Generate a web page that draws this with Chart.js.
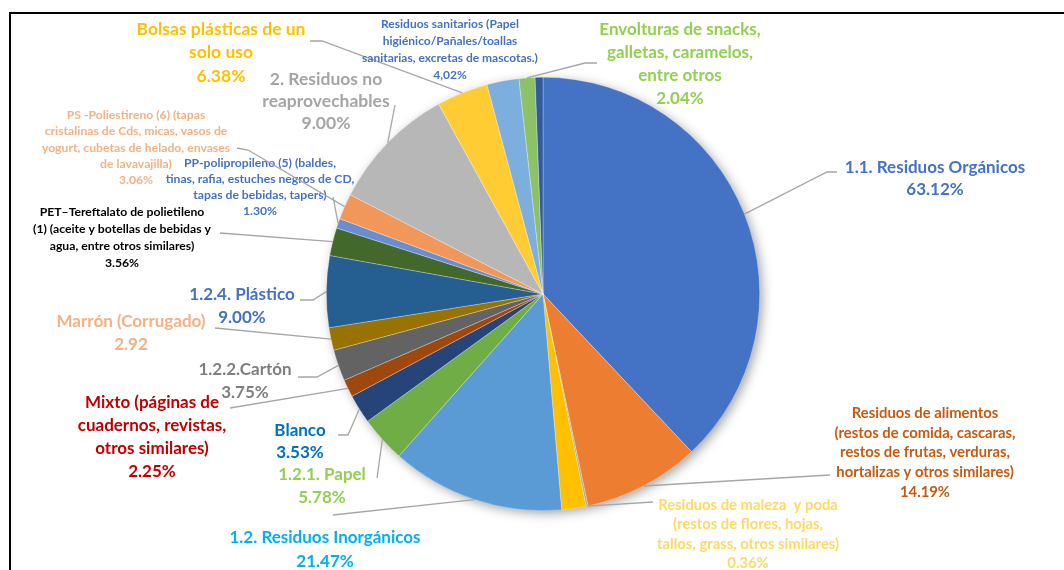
<!DOCTYPE html>
<html>
<head>
<meta charset="utf-8">
<script src="https://cdn.jsdelivr.net/npm/chart.js@4.4.1/dist/chart.umd.min.js"></script>
<style>
  html, body { margin: 0; padding: 0; background: #fff; overflow: hidden; }
  #wrap { position: relative; width: 1064px; height: 570px; }
  #frame { position: absolute; left: 9px; top: 12px; width: 1100px; height: 600px; border-top: 2px solid #000; border-left: 2px solid #000; }
  canvas { position: absolute; left: 0; top: 0; }
</style>
</head>
<body>
<div id="wrap">
  <div id="frame"></div>
  <canvas id="myChart" width="1064" height="570"></canvas>
</div>
<script>
// slice names, clockwise from 12 o'clock ("" = no label on the chart)
let categories = [
    "1.1. Residuos Orgánicos",
    "Residuos de alimentos\n(restos de comida, cascaras,\nrestos de frutas, verduras,\nhortalizas y otros similares)",
    "Residuos de maleza  y poda\n(restos de flores, hojas,\ntallos, grass, otros similares)",
    "",
    "1.2. Residuos Inorgánicos",
    "1.2.1. Papel",
    "Blanco",
    "Mixto (páginas de\ncuadernos, revistas,\notros similares)",
    "1.2.2.Cartón",
    "Marrón (Corrugado)",
    "1.2.4. Plástico",
    "PET–Tereftalato de polietileno\n(1) (aceite y botellas de bebidas y\nagua, entre otros similares)",
    "PP-polipropileno (5) (baldes,\ntinas, rafia, estuches negros de CD,\ntapas de bebidas, tapers)",
    "PS -Poliestireno (6) (tapas\ncristalinas de Cds, micas, vasos de\nyogurt, cubetas de helado, envases\nde lavavajilla)",
    "2. Residuos no\nreaprovechables",
    "Bolsas plásticas de un\nsolo uso",
    "Residuos sanitarios (Papel\nhigiénico/Pañales/toallas\nsanitarias, excretas de mascotas.)",
    "Envolturas de snacks,\ngalletas, caramelos,\nentre otros",
    ""
];
// slice size (share of the circle, %)
let sliceValues = [37.97, 8.69, 0.14, 1.81, 12.94, 3.44, 2.17, 1.31, 2.33, 1.69, 5.33, 2.08, 0.72, 1.92, 9.44, 3.83, 2.39, 1.19, 0.58];
// percentages printed in the labels
let shownPercents = ["63.12%", "14.19%", "0.36%", "", "21.47%", "5.78%", "3.53%", "2.25%", "3.75%", "2.92", "9.00%", "3.56%", "1.30%", "3.06%", "9.00%", "6.38%", "4,02%", "2.04%", ""];

let sliceColors = ["#4472C4", "#ED7D31", "#A5A5A5", "#FFC000", "#5B9BD5", "#70AD47", "#264478", "#9E480E", "#636363", "#997300",
    "#255E91", "#43682B", "#698ED0", "#F1975A", "#B7B7B7", "#FFCD33", "#7CAFDD", "#8CC168", "#335AA1"];

// label layout: center x, first line y, line height, font size, color, leader points (the slice end is added)
let labelLayout = [
    { x: 935, y: 168, lh: 22, size: 17, color: "#4472C4", leader: [[837, 172], [827, 172]] },
    { x: 925, y: 413, lh: 19.8, size: 14.8, color: "#C55A11", leader: [[830, 475]] },
    { x: 748, y: 505, lh: 19.5, size: 14.8, color: "#FFD966", leader: [[653, 502]] },
    null,
    { x: 325, y: 538, lh: 24, size: 17, color: "#00B0F0", leader: [[333, 515]] },
    { x: 322, y: 475, lh: 23, size: 17, color: "#92D050", leader: [[377, 478]] },
    { x: 300, y: 431, lh: 22, size: 17, color: "#0070C0", leader: [[338, 435], [348, 435]] },
    { x: 152, y: 403, lh: 23, size: 17, color: "#C00000", leader: [[230, 408]] },
    { x: 245, y: 370, lh: 23, size: 17, color: "#7F7F7F", leader: [[298, 377], [317, 377]] },
    { x: 131, y: 322, lh: 23, size: 17, color: "#F4B183", leader: [[215, 328]] },
    { x: 242, y: 295, lh: 23, size: 17, color: "#4472C4", leader: [[300, 300], [313, 300]] },
    { x: 122, y: 212, lh: 17, size: 12.2, color: "#000000", leader: [[220, 233]] },
    { x: 260, y: 163, lh: 16, size: 12.2, color: "#4472C4", leader: [[333, 197]] },
    { x: 136, y: 115, lh: 16.3, size: 12.2, color: "#F4B183", leader: [[237, 148], [248, 150]] },
    { x: 326, y: 79, lh: 22, size: 17.5, color: "#A5A5A5", leader: [[395, 105]] },
    { x: 221, y: 29, lh: 23.5, size: 17.5, color: "#FFC000", leader: [[310, 41], [322, 41]] },
    { x: 450, y: 24, lh: 17, size: 12, color: "#4472C4", leader: [] },
    { x: 680, y: 30, lh: 22.7, size: 17, color: "#92D050", leader: [[597, 63], [585, 63]] },
    null
];

// soft shadow behind the whole pie
const pieShadow = {
    id: 'pieShadow',
    beforeDatasetsDraw(chart) {
        let arc = chart.getDatasetMeta(0).data[0];
        let ctx = chart.ctx;
        ctx.save();
        ctx.shadowColor = 'rgba(0,0,0,0.4)';
        ctx.shadowBlur = 12;
        ctx.shadowOffsetX = 3;
        ctx.shadowOffsetY = 3;
        ctx.fillStyle = '#fff';
        ctx.beginPath();
        ctx.arc(arc.x, arc.y, arc.outerRadius - 1, 0, Math.PI * 2);
        ctx.fill();
        ctx.restore();
    }
};

// labels and leader lines like the Excel data callouts
const calloutLabels = {
    id: 'calloutLabels',
    afterDatasetsDraw(chart) {
        let ctx = chart.ctx;
        let arcs = chart.getDatasetMeta(0).data;
        ctx.save();
        for (let i = 0; i < arcs.length; i++) {
            let lay = labelLayout[i];
            if (!lay) continue;
            let a = arcs[i].getProps(['x', 'y', 'startAngle', 'endAngle', 'outerRadius'], true);
            let mid = (a.startAngle + a.endAngle) / 2;
            let px = a.x + Math.cos(mid) * a.outerRadius;
            let py = a.y + Math.sin(mid) * a.outerRadius;
            if (lay.leader.length) {
                ctx.strokeStyle = '#A6A6A6';
                ctx.lineWidth = 1.3;
                ctx.beginPath();
                ctx.moveTo(lay.leader[0][0], lay.leader[0][1]);
                for (let j = 1; j < lay.leader.length; j++) ctx.lineTo(lay.leader[j][0], lay.leader[j][1]);
                ctx.lineTo(px, py);
                ctx.stroke();
            }
            let lines = categories[i].split('\n').concat([shownPercents[i]]);
            ctx.fillStyle = lay.color;
            ctx.font = 'bold ' + lay.size + 'px Lato, "Open Sans", sans-serif';
            ctx.textAlign = 'center';
            ctx.textBaseline = 'middle';
            lines.forEach((t, k) => ctx.fillText(t, lay.x, lay.y + k * lay.lh));
        }
        ctx.restore();
    }
};

let ctx = document.getElementById('myChart').getContext('2d');
let myChart = new Chart(ctx, {
    type: 'pie',
    data: {
        labels: categories,
        datasets: [{
            data: sliceValues,
            backgroundColor: sliceColors,
            borderColor: 'rgba(255,255,255,0.45)',
            borderWidth: 0.6
        }]
    },
    options: {
        responsive: false,
        animation: false,
        layout: { padding: { left: 326, right: 304, top: 77, bottom: 59 } },
        plugins: {
            legend: { display: false },
            tooltip: { enabled: false }
        }
    },
    plugins: [pieShadow, calloutLabels]
});
</script>
</body>
</html>
